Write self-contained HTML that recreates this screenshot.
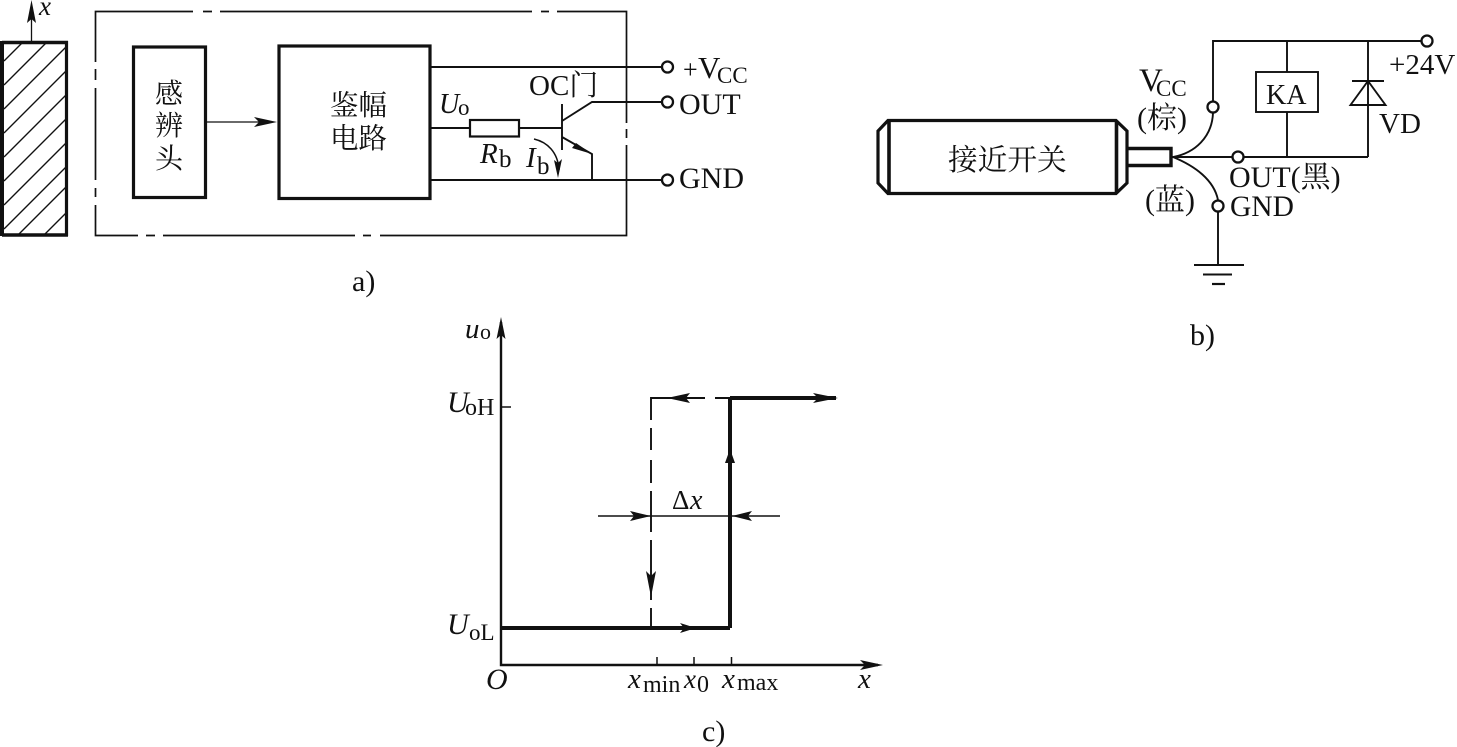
<!DOCTYPE html>
<html><head><meta charset="utf-8"><style>
html,body{margin:0;padding:0;background:#fff}
svg{display:block}
text{font-family:"Liberation Serif","Noto Serif CJK SC",serif;fill:#111}
.i{font-style:italic}
</style></head><body>
<svg width="1457" height="747" viewBox="0 0 1457 747" xmlns="http://www.w3.org/2000/svg">
<rect width="1457" height="747" fill="#fff"/>
<g fill="none" stroke="#111" stroke-width="1.7">
<!-- hatch -->
<path d="M4 61L23 42M4 85L46 43M4 109L66 47M4 133L66 71M4 157L66 95M4 181L66 119M4 205L66 143M4 229L66 167M18 235L66 187M44 235L66 213" stroke-width="1.4"/>
<path d="M31.5 41V12" stroke-width="1.3"/>
<!-- frame -->
<path d="M95.5 62V11.5H193M203 11.5H212M220 11.500H532M541 11.500H549M557 11.500H626.500V123"/>
<path d="M626.500 129V138M626.500 145V235.500H380M371 235.500H363M355 235.500H163M155 235.500H146M138 235.500H95.500V205M95.500 197V188M95.500 180V88M95.500 80V69"/>
<path d="M206 122H272" stroke-width="1.3"/>
<!-- circuit a -->
<path d="M430 67H662M430 128H470M519 128H562M562 104V150M562 121L592 102H662M562 137L592 154V180M430 180H662" stroke-width="1.9"/>
<rect x="470" y="120" width="49" height="16.500" stroke-width="2.200"/>
<path d="M534 139C547 142 558 152 559 170" stroke-width="1.500"/>
<!-- b -->
<path d="M1213 101V41H1421M1287 41V72M1287 112V157M1368 41V157M1352 81H1384M1172 157H1232M1244 157H1368M1218 212V265M1194 265H1244M1203 274.500H1232" stroke-width="1.900"/>
<path d="M1212 284H1225" stroke-width="2.200"/>
<path d="M1173 157C1195 153 1212 137 1213 113M1173 157C1195 166 1214 180 1218 200" stroke-width="1.900"/>
<rect x="1256" y="72" width="62" height="40" stroke-width="1.900"/>
<path d="M1350.500 105H1385.500L1368 81Z" stroke-width="1.900"/>
<!-- c -->
<path d="M501 322V665H878" stroke-width="2.400"/>
<path d="M501 407H511M657 657V665M694 657V665M731.500 657V665" stroke-width="1.500"/>
<path d="M651 628V608M651 600V587M651 580V540M651 532V491M651 483V460M651 450V428M651 420V398H705M715 398H731" stroke-width="1.900"/>
<path d="M598 516H780" stroke-width="1.500"/>
</g>
<g fill="none" stroke="#111">
<path d="M1.500 41V236M66.500 41V236" stroke-width="3.200"/>
<path d="M2 42.500H68M2 235H68" stroke-width="3.500"/>
<path d="M2 41V236" stroke-width="4"/>
<rect x="133.500" y="47" width="72" height="150.500" stroke-width="3.200"/>
<rect x="279" y="46" width="151" height="152.500" stroke-width="3.200"/>
<!-- proximity switch -->
<path d="M888 120.500H1116L1127 131V183L1116 193.500H888L878 183V131L888 120.500Z" stroke-width="3.200"/>
<path d="M889 121V193M1116.500 121V193" stroke-width="3.600"/>
<path d="M1127 148.500H1171V165.500H1127" stroke-width="3.400"/>
<path d="M501 628H730M730 628V398M730 398H836" stroke-width="4"/>
</g>
<g fill="#fff" stroke="#111" stroke-width="2.300">
<circle cx="667.500" cy="67" r="5.500"/><circle cx="667.500" cy="102" r="5.500"/><circle cx="667.500" cy="180" r="5.500"/>
<circle cx="1213" cy="107" r="5.500"/><circle cx="1238" cy="157" r="5.500"/><circle cx="1218" cy="206" r="5.500"/><circle cx="1427" cy="41" r="5.500"/>
</g>
<g fill="#111">
<!-- arrowheads -->
<path d="M31.500 0L36 23L31.500 19L27 23Z"/>
<path d="M277 122L254 117L259 122L254 127Z"/>
<path d="M592 154L572 148L576 143Z"/>
<path d="M558 178L554 160L558 163L562 159Z"/>
<path d="M501 317L505.500 339L501 335L496.500 339Z"/>
<path d="M883 665L860 660L865 665L860 670Z"/>
<path d="M838 398L813 393L818 398L813 403Z"/>
<path d="M667 398L690 393L686 398L690 403Z"/>
<path d="M730 449L725 463L735 463Z"/>
<path d="M651 597L646 571L651 576L656 571Z"/>
<path d="M651 516L630 511L634 516L630 521Z"/>
<path d="M732 516L752 511L748 516L752 521Z"/>
<path d="M696 628L680 623L684 628L680 633Z"/>
</g>
<!-- text a -->
<text x="39" y="15" class="i" font-size="27">x</text>
<text x="155" y="103" font-size="28">感</text>
<text x="155" y="135" font-size="28">辨</text>
<text x="155" y="168" font-size="28">头</text>
<text x="330" y="115" font-size="28.500">鉴幅</text>
<text x="330" y="148" font-size="28.500">电路</text>
<text x="439" y="113" class="i" font-size="28">U</text><text x="458" y="115" font-size="23">o</text>
<text x="480" y="163" class="i" font-size="29">R</text><text x="499" y="167" font-size="25">b</text>
<text x="526" y="167" class="i" font-size="29">I</text><text x="537" y="174" font-size="25">b</text>
<text x="529" y="95" font-size="29">OC门</text>
<text x="683" y="78" font-size="26">+</text><text x="698" y="78" font-size="31">V</text><text x="717" y="83" font-size="23">CC</text>
<text x="679" y="114" font-size="30">OUT</text>
<text x="679" y="188" font-size="30">GND</text>
<text x="352" y="291" font-size="30">a)</text>
<!-- text b -->
<text x="948" y="170" font-size="29.700">接近开关</text>
<text x="1139" y="91" font-size="33">V</text><text x="1156" y="96" font-size="23">CC</text>
<text x="1137" y="128" font-size="30">(棕)</text>
<text x="1145" y="210" font-size="30">(蓝)</text>
<text x="1266" y="104" font-size="28">KA</text>
<text x="1389" y="74" font-size="29">+24V</text>
<text x="1379" y="133" font-size="29">VD</text>
<text x="1229" y="187" font-size="30">OUT(黑)</text>
<text x="1230" y="216" font-size="29.500">GND</text>
<text x="1190" y="345" font-size="30">b)</text>
<!-- text c -->
<text x="465" y="338" class="i" font-size="29">u</text><text x="480" y="339" font-size="22">o</text>
<text x="447" y="412" class="i" font-size="30">U</text><text x="465" y="415" font-size="24">oH</text>
<text x="447" y="634" class="i" font-size="30">U</text><text x="469" y="640" font-size="23">oL</text>
<text x="672" y="509" font-size="27">Δ</text><text x="690" y="509" class="i" font-size="28">x</text>
<text x="486" y="689" class="i" font-size="30">O</text>
<text x="628" y="688" class="i" font-size="29">x</text><text x="643" y="692" font-size="24">min</text>
<text x="684" y="688" class="i" font-size="27">x</text><text x="697" y="692" font-size="24">0</text>
<text x="722" y="688" class="i" font-size="29">x</text><text x="737" y="690" font-size="24">max</text>
<text x="858" y="688" class="i" font-size="29">x</text>
<text x="702" y="741" font-size="30">c)</text>
</svg>
</body></html>
